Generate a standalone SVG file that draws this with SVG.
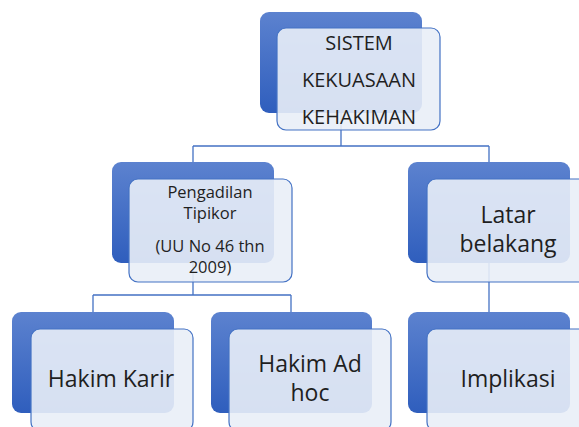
<svg xmlns="http://www.w3.org/2000/svg" width="579" height="427" viewBox="0 0 579 427">
<defs>
<linearGradient id="bg" x1="0" y1="0" x2="0" y2="1">
<stop offset="0" stop-color="#5C82CF"/>
<stop offset="1" stop-color="#2F5EBD"/>
</linearGradient>
</defs>
<style>
.back{fill:url(#bg);}
.front{fill:#E9EEF7;fill-opacity:0.9;stroke:#4472C4;stroke-width:1.2;}
.conn{fill:none;stroke:#4472C4;stroke-width:1.3;}
text{font-family:"Open Sans","Noto Sans",sans-serif;fill:#1f1f1f;text-anchor:middle;}
.t20{font-size:20px;}
.t17{font-size:16.5px;}
.t23{font-size:23px;}
</style>
<rect width="579" height="427" fill="#ffffff"/>
<g id="connectors">
<path class="conn" d="M341,113 V146 M193,146 H489 M193,146 V162 M489,146 V162"/>
<path class="conn" d="M193,263 V295 M93,295 H291 M93,295 V312 M291,295 V312"/>
<path class="conn" d="M489,263 V312"/>
</g>
<g id="node-sistem">
<rect class="back" x="260" y="12" width="162" height="101" rx="9"/>
<rect class="front" x="277" y="28" width="163" height="102" rx="9"/>
<text class="t20" x="359" y="50">SISTEM</text>
<text class="t20" x="359" y="87">KEKUASAAN</text>
<text class="t20" x="359" y="124">KEHAKIMAN</text>
</g>
<g id="node-pengadilan">
<rect class="back" x="112" y="162" width="162" height="101" rx="9"/>
<rect class="front" x="129" y="179" width="163" height="103" rx="9"/>
<text class="t17" x="210" y="198">Pengadilan</text>
<text class="t17" x="210" y="219">Tipikor</text>
<text class="t17" x="210" y="252">(UU No 46 thn</text>
<text class="t17" x="210" y="273">2009)</text>
</g>
<g id="node-latar">
<rect class="back" x="408" y="162" width="162" height="101" rx="9"/>
<rect class="front" x="427" y="179" width="163" height="103" rx="9"/>
<text class="t23" x="508" y="223">Latar</text>
<text class="t23" x="508" y="252">belakang</text>
</g>
<g id="node-karir">
<rect class="back" x="12" y="312" width="162" height="101" rx="9"/>
<rect class="front" x="31" y="329" width="162" height="102" rx="9"/>
<text class="t23" x="111" y="387">Hakim Karir</text>
</g>
<g id="node-adhoc">
<rect class="back" x="211" y="312" width="161" height="101" rx="9"/>
<rect class="front" x="229" y="329" width="162" height="102" rx="9"/>
<text class="t23" x="310" y="372">Hakim Ad</text>
<text class="t23" x="310" y="401">hoc</text>
</g>
<g id="node-implikasi">
<rect class="back" x="408" y="312" width="162" height="101" rx="9"/>
<rect class="front" x="427" y="329" width="163" height="102" rx="9"/>
<text class="t23" x="508" y="387">Implikasi</text>
</g>
</svg>
